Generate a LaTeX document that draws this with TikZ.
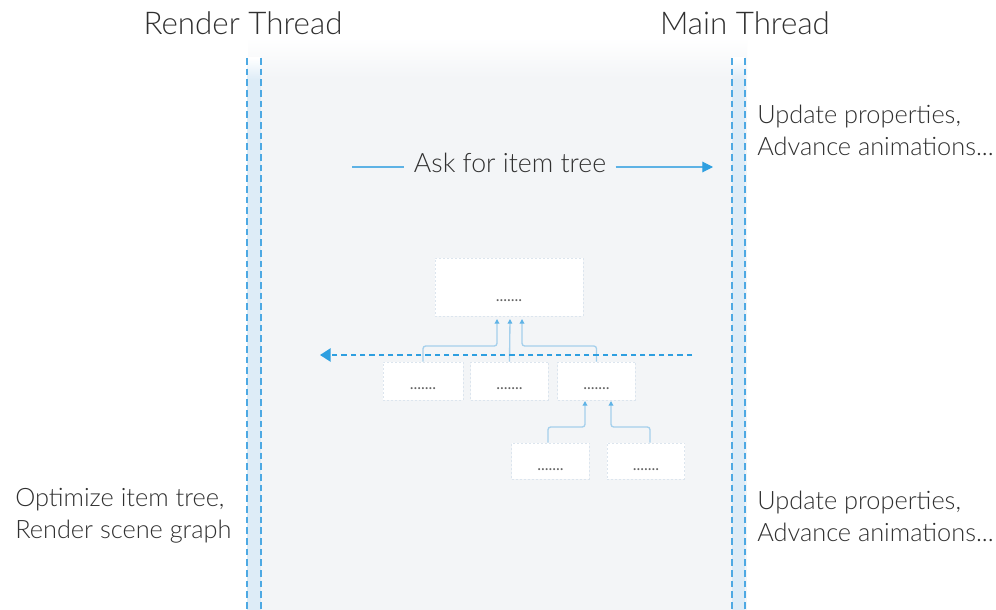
\documentclass[tikz,border=0pt]{standalone}
\usepackage{fontspec}
\IfFontExistsTF{Lato Light}{\setmainfont{Lato Light}}{\setmainfont{Lato}}
\newfontfamily\dotfont{Lato}
\usetikzlibrary{arrows.meta}
\definecolor{lanecol}{HTML}{4DA9E3}
\definecolor{lanefill}{HTML}{DDECF7}
\definecolor{bggray}{HTML}{F3F5F7}
\definecolor{txt}{HTML}{303030}
\definecolor{conn}{HTML}{A5D0EC}
\definecolor{connhead}{HTML}{5FB3E6}
\definecolor{arrowblue}{HTML}{2E9FE0}
\definecolor{asklinecol}{HTML}{5DB2E5}
\definecolor{boxborder}{HTML}{DCE5EE}
\begin{document}
\begin{tikzpicture}[x=0.75pt,y=-0.75pt,
  lane/.style={draw=lanecol,line width=1.2pt,dash pattern=on 5pt off 3pt},
  head/.style={text=txt,font=\fontsize{23.5}{27}\selectfont,inner sep=0pt},
  side/.style={text=txt,font=\fontsize{19}{24}\selectfont,align=left,inner sep=0pt},
  asklbl/.style={text=txt,font=\fontsize{20}{24}\selectfont,inner sep=7pt},
  askline/.style={draw=asklinecol,line width=0.8pt},
  tbox/.style={draw=boxborder,fill=white,dash pattern=on 1.5pt off 1.5pt,line width=0.6pt,inner sep=0pt},
  tdots/.style={text=txt!75,font=\dotfont\fontsize{12}{12}\selectfont,inner sep=0pt},
  tconn/.style={draw=conn,line width=1pt,rounded corners=2pt},
  tarrow/.style={-{Triangle[length=3.5pt,width=3.5pt,color=connhead]}},
]
\useasboundingbox (0,0) rectangle (996,610);
\fill[white] (0,0) rectangle (996,610);
% background region
\shade[top color=white,bottom color=bggray] (248,38) rectangle (747,78);
\fill[bggray] (248,78) rectangle (747,610);
% lanes
\shade[top color=white,bottom color=lanefill] (247,58) rectangle (261,80);
\fill[lanefill] (247,80) rectangle (261,610);
\shade[top color=white,bottom color=lanefill] (732,58) rectangle (745,80);
\fill[lanefill] (732,80) rectangle (745,610);
\draw[lane] (247,58) -- (247,610);
\draw[lane] (261,58) -- (261,610);
\draw[lane] (732,58) -- (732,610);
\draw[lane] (745,58) -- (745,610);

% headers
\node[head] (rt) at (243,23) {Render Thread};
\node[head] (mt) at (745,23) {Main Thread};

% side texts
\node[side,anchor=west] (up1) at (757,130) {Update properties,\\Advance animations...};
\node[side,anchor=west] (up2) at (757,516) {Update properties,\\Advance animations...};
\node[side,anchor=west] (opt) at (15,516) {Optimize item tree,\\Render scene graph};

% ask arrow
\node[asklbl] (ask) at (510,163) {Ask for item tree};
\coordinate (askL) at (352,167);
\coordinate (askR) at (713,167);
\draw[askline] (askL) -- (ask.west |- askL);
\draw[askline,-{Triangle[length=8pt,width=8pt,color=arrowblue]}] (ask.east |- askR) -- (askR);

% tree boxes
\node[tbox,minimum width=111pt,minimum height=43.5pt] (top) at (509,287) {};
\node[tbox,minimum width=60pt,minimum height=28.5pt] (b1) at (423,381) {};
\node[tbox,minimum width=58pt,minimum height=28.5pt] (b2) at (509.5,381) {};
\node[tbox,minimum width=58pt,minimum height=28.5pt] (b3) at (596.5,381) {};
\node[tbox,minimum width=58pt,minimum height=27pt] (b4) at (550.5,461) {};
\node[tbox,minimum width=58pt,minimum height=27pt] (b5) at (646,461) {};
\node[tdots,anchor=base] (topd) at ([yshift=11pt]top.south) {.......};
\node[tdots,anchor=base] (b1d) at ([yshift=8.5pt]b1.south) {.......};
\node[tdots,anchor=base] (b2d) at ([yshift=8.5pt]b2.south) {.......};
\node[tdots,anchor=base] (b3d) at ([yshift=8.5pt]b3.south) {.......};
\node[tdots,anchor=base] (b4d) at ([yshift=6.5pt]b4.south) {.......};
\node[tdots,anchor=base] (b5d) at ([yshift=6.5pt]b5.south) {.......};

% connectors top
\coordinate (t1) at (497,319);
\coordinate (t2) at (510,319);
\coordinate (t3) at (522,319);
\coordinate (j1) at (497,346);
\coordinate (j3) at (522,346);
\draw[tconn,tarrow] (b1.north) |- (j1) -- (t1);
\draw[tconn,tarrow] (b2.north) -- (t2);
\draw[tconn,tarrow] (b3.north) |- (j3) -- (t3);
% connectors bottom
\coordinate (u4) at (585,401);
\coordinate (u5) at (611,401);
\coordinate (k4) at (585,427);
\coordinate (k5) at (611,427);
\draw[tconn,tarrow] (b4.north -| 548,0) |- (k4) -- (u4);
\draw[tconn,tarrow] (b5.north -| 650,0) |- (k5) -- (u5);

% dashed return arrow
\coordinate (dR) at (692,355);
\coordinate (dL) at (320,355);
\draw[draw=arrowblue,line width=1.2pt,dash pattern=on 4pt off 3pt,-{Triangle[length=8pt,width=10pt,color=arrowblue,sep=0pt]}] (dR) -- (dL);
\end{tikzpicture}
\end{document}
